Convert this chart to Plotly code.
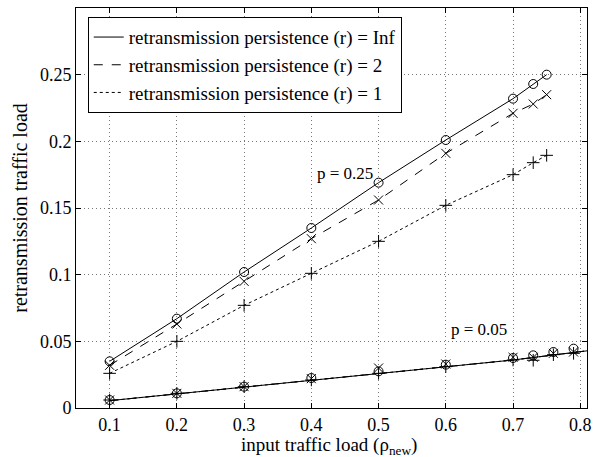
import plotly.graph_objects as go

# ---- data ----
x_p25 = [0.1, 0.2, 0.3, 0.4, 0.5, 0.6, 0.7, 0.73, 0.75]
y_p25_inf = [0.035, 0.067, 0.102, 0.135, 0.169, 0.201, 0.232, 0.243, 0.250]
y_p25_r2 = [0.032, 0.063, 0.095, 0.127, 0.156, 0.191, 0.221, 0.228, 0.235]
y_p25_r1 = [0.026, 0.050, 0.077, 0.101, 0.125, 0.152, 0.175, 0.184, 0.1895]

x_p05 = [0.1, 0.2, 0.3, 0.4, 0.5, 0.6, 0.7, 0.73, 0.76, 0.79]
y_p05_inf = [0.006, 0.011, 0.016, 0.0225, 0.0275, 0.0325, 0.0375, 0.0395, 0.042, 0.0445]
y_p05_r2 = [0.006, 0.011, 0.016, 0.022, 0.030, 0.033, 0.038, 0.038, 0.041, 0.042]
y_p05_r1 = [0.006, 0.011, 0.016, 0.021, 0.026, 0.031, 0.036, 0.0358, 0.040, 0.041]

x_p05_line = [0.1, 0.2, 0.3, 0.4, 0.5, 0.6, 0.7, 0.82]
y_p05_line = [0.0055, 0.0105, 0.016, 0.021, 0.026, 0.031, 0.036, 0.0435]

legend_names = ["retransmission persistence (r) = Inf",
                "retransmission persistence (r) = 2",
                "retransmission persistence (r) = 1"]
dashes = ["solid", "dash", "dot"]
symbols = ["circle-open", "x-thin-open", "cross-thin-open"]

fig = go.Figure()

p25_sets = [y_p25_inf, y_p25_r2, y_p25_r1]
p05_sets = [y_p05_inf, y_p05_r2, y_p05_r1]

for i in range(3):
    fig.add_trace(go.Scatter(x=x_p25, y=p25_sets[i], mode="lines",
                             line=dict(color="black", width=1, dash=dashes[i]),
                             name=legend_names[i], showlegend=True))
    fig.add_trace(go.Scatter(x=x_p05_line, y=y_p05_line, mode="lines",
                             line=dict(color="black", width=1, dash=dashes[i]),
                             showlegend=False, hoverinfo="skip"))
    fig.add_trace(go.Scatter(x=x_p25, y=p25_sets[i], mode="markers",
                             marker=dict(symbol=symbols[i], size=9, color="black",
                                         line=dict(width=1, color="black")),
                             showlegend=False))
    fig.add_trace(go.Scatter(x=x_p05, y=p05_sets[i], mode="markers",
                             marker=dict(symbol=symbols[i], size=9, color="black",
                                         line=dict(width=1, color="black")),
                             showlegend=False))

font_family = "Liberation Serif, Times New Roman, serif"

fig.add_annotation(x=0.45, y=0.176, text="p = 0.25", showarrow=False,
                   font=dict(family=font_family, size=17, color="black"))
fig.add_annotation(x=0.65, y=0.059, text="p = 0.05", showarrow=False,
                   font=dict(family=font_family, size=17, color="black"))
fig.add_annotation(xref="paper", yref="paper", x=0.495, y=-0.096,
                   xanchor="center", yanchor="middle",
                   text="input traffic load (ρ<sub>new</sub>)", showarrow=False,
                   font=dict(family=font_family, size=19, color="black"))

axis_common = dict(showline=True, linecolor="black", linewidth=1, mirror="ticks",
                   ticks="inside", ticklen=5, tickcolor="black",
                   showgrid=True, gridcolor="#777777", griddash="1px,3px", gridwidth=1,
                   zeroline=False, automargin=False,
                   tickfont=dict(family=font_family, size=18, color="black"))

fig.update_xaxes(range=[0.05, 0.81], tickvals=[0.1, 0.2, 0.3, 0.4, 0.5, 0.6, 0.7, 0.8],
                 ticktext=["0.1", "0.2", "0.3", "0.4", "0.5", "0.6", "0.7", "0.8"],
                 **axis_common)
fig.update_yaxes(range=[0, 0.3], tickvals=[0, 0.05, 0.1, 0.15, 0.2, 0.25],
                 ticktext=["0", "0.05", "0.1", "0.15", "0.2", "0.25"],
                 title=dict(text="retransmission traffic load",
                            font=dict(family=font_family, size=20, color="black"),
                            standoff=6),
                 **axis_common)

fig.update_layout(
    width=599, height=457,
    margin=dict(l=76, r=12, t=8, b=49),
    plot_bgcolor="white", paper_bgcolor="white",
    legend=dict(x=0.023, y=0.977, xanchor="left", yanchor="top",
                bgcolor="white", bordercolor="black", borderwidth=1,
                font=dict(family=font_family, size=19, color="black"),
                tracegroupgap=0, itemwidth=30),
    showlegend=True,
)

fig.write_html("out.html", config={"displayModeBar": False},
               post_script="document.body.style.margin='0';")
